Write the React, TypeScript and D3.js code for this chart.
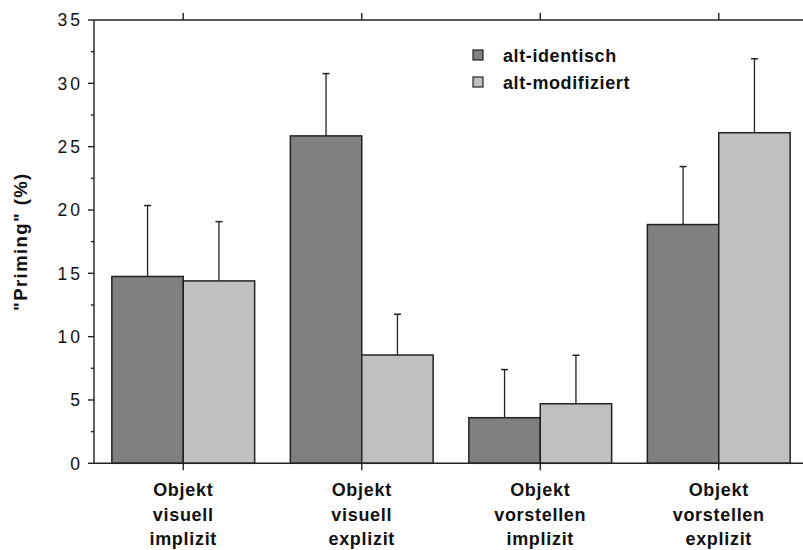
import React, { useEffect, useRef } from "react";
import * as d3 from "d3";

// Groups on the x axis, each label split over three lines
const categories = ["visuell-implizit", "visuell-explizit", "vorstellen-implizit", "vorstellen-explizit"];
const categoryLines = [
  ["Objekt", "visuell", "implizit"],
  ["Objekt", "visuell", "explizit"],
  ["Objekt", "vorstellen", "implizit"],
  ["Objekt", "vorstellen", "explizit"],
];
const seriesNames = ["alt-identisch", "alt-modifiziert"];
const identischValues = [14.75, 25.85, 3.6, 18.85];
const identischErrors = [5.6, 4.92, 3.8, 4.58];
const modifiziertValues = [14.4, 8.55, 4.7, 26.1];
const modifiziertErrors = [4.68, 3.22, 3.83, 5.84];
const yTicks = [0, 5, 10, 15, 20, 25, 30, 35];
const yMinorTicks = [2.5, 7.5, 12.5, 17.5, 22.5, 27.5, 32.5];
const yLabel = '"Priming" (%)';

const W = 803;
const H = 550;
const FONT = '"Liberation Sans", Arial, Helvetica, sans-serif';
const fills = ["#808080", "#c0c0c0"];

export default function App() {
  const ref = useRef<SVGSVGElement>(null);

  useEffect(() => {
    const svg = d3.select(ref.current);
    svg.selectAll("*").remove();

    const left = 94, right = 808, top = 20, bottom = 463.3;
    const x = d3.scaleBand<string>().domain(categories).range([left, right]).paddingInner(0.2).paddingOuter(0.1);
    const xs = d3.scaleBand<string>().domain(seriesNames).range([0, x.bandwidth()]);
    const y = d3.scaleLinear().domain([0, 35]).range([bottom, top]);

    const series = [
      { name: seriesNames[0], values: identischValues, errors: identischErrors, fill: fills[0] },
      { name: seriesNames[1], values: modifiziertValues, errors: modifiziertErrors, fill: fills[1] },
    ];

    const ink = "#222";

    // bars with upper error whiskers
    series.forEach((s) => {
      const g = svg.append("g");
      categories.forEach((c, i) => {
        const x0 = (x(c) as number) + (xs(s.name) as number);
        const bw = xs.bandwidth();
        const cx = x0 + bw / 2;
        const yTop = y(s.values[i]);
        const yErr = y(s.values[i] + s.errors[i]);
        g.append("line").attr("x1", cx).attr("x2", cx).attr("y1", yTop).attr("y2", yErr)
          .attr("stroke", ink).attr("stroke-width", 1.3);
        g.append("line").attr("x1", cx - 3.5).attr("x2", cx + 3.5).attr("y1", yErr).attr("y2", yErr)
          .attr("stroke", ink).attr("stroke-width", 1.5);
        g.append("rect").attr("x", x0).attr("y", yTop).attr("width", bw).attr("height", y(0) - yTop)
          .attr("fill", s.fill).attr("stroke", ink).attr("stroke-width", 1.5);
      });
    });

    // frame lines: left, bottom, top
    const axes = svg.append("g").attr("stroke", ink).attr("stroke-width", 1.4);
    axes.append("line").attr("x1", left).attr("x2", left).attr("y1", top).attr("y2", bottom);
    axes.append("line").attr("x1", left).attr("x2", right).attr("y1", bottom).attr("y2", bottom);
    axes.append("line").attr("x1", left).attr("x2", right).attr("y1", top).attr("y2", top);

    // y ticks
    yTicks.forEach((t) => {
      axes.append("line").attr("x1", left - 6).attr("x2", left).attr("y1", y(t)).attr("y2", y(t));
    });
    yMinorTicks.forEach((t) => {
      axes.append("line").attr("x1", left - 3).attr("x2", left).attr("y1", y(t)).attr("y2", y(t));
    });
    // category ticks on bottom and top
    categories.forEach((c) => {
      const cx = (x(c) as number) + x.bandwidth() / 2;
      axes.append("line").attr("x1", cx).attr("x2", cx).attr("y1", bottom).attr("y2", bottom + 7);
      axes.append("line").attr("x1", cx).attr("x2", cx).attr("y1", top).attr("y2", top - 7);
    });

    // y tick labels
    svg.append("g").selectAll("text").data(yTicks).join("text")
      .attr("x", 83).attr("y", (d) => y(d) + 6.3)
      .attr("text-anchor", "end")
      .attr("font-family", FONT).attr("font-size", 17.5).attr("letter-spacing", 3)
      .attr("fill", "#111")
      .text((d) => String(d));

    // y axis title
    svg.append("text")
      .attr("transform", `translate(27,${(top + bottom) / 2}) rotate(-90)`)
      .attr("text-anchor", "middle")
      .attr("font-family", FONT).attr("font-size", 18.5).attr("font-weight", "bold")
      .attr("letter-spacing", 1.4)
      .attr("fill", "#111")
      .text(yLabel);

    // category labels
    categories.forEach((c, i) => {
      const cx = (x(c) as number) + x.bandwidth() / 2;
      const t = svg.append("text")
        .attr("text-anchor", "middle")
        .attr("font-family", FONT).attr("font-size", 18).attr("font-weight", "bold")
        .attr("letter-spacing", 0.7).attr("fill", "#111");
      categoryLines[i].forEach((line, j) => {
        t.append("tspan").attr("x", cx).attr("y", 496 + j * 24.5).text(line);
      });
    });

    // legend
    const legend = svg.append("g");
    series.forEach((s, i) => {
      const ly = 50 + i * 27;
      legend.append("rect").attr("x", 473).attr("y", ly).attr("width", 10).attr("height", 10)
        .attr("fill", s.fill).attr("stroke", ink).attr("stroke-width", 1.2);
      legend.append("text").attr("x", 503).attr("y", ly + 11.5)
        .attr("font-family", FONT).attr("font-size", 18).attr("font-weight", "bold")
        .attr("letter-spacing", 0.6).attr("fill", "#111")
        .text(s.name);
    });
  }, []);

  return (
    <svg
      ref={ref}
      width={W}
      height={H}
      style={{ position: "fixed", left: 0, top: 0, background: "#fff" }}
    />
  );
}
